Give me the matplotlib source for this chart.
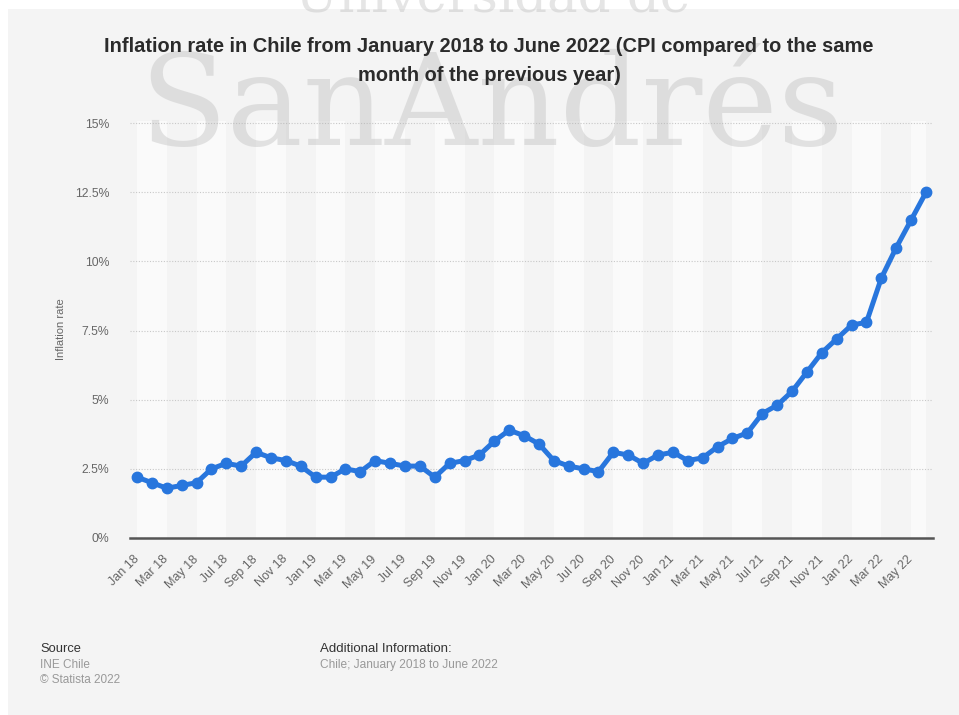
import matplotlib
matplotlib.use('Agg')
import matplotlib.pyplot as plt
import pandas as pd
from matplotlib.patches import Rectangle

# monthly CPI change vs same month of previous year, Jan 2018 - Jun 2022
months = pd.date_range('2018-01-01', '2022-06-01', freq='MS')
month_labels = [d.strftime('%b %y') for d in months]
inflation = [
    2.2, 2.0, 1.8, 1.9, 2.0, 2.5, 2.7, 2.6, 3.1, 2.9, 2.8, 2.6,   # 2018
    2.2, 2.2, 2.5, 2.4, 2.8, 2.7, 2.6, 2.6, 2.2, 2.7, 2.8, 3.0,   # 2019
    3.5, 3.9, 3.7, 3.4, 2.8, 2.6, 2.5, 2.4, 3.1, 3.0, 2.7, 3.0,   # 2020
    3.1, 2.8, 2.9, 3.3, 3.6, 3.8, 4.5, 4.8, 5.3, 6.0, 6.7, 7.2,   # 2021
    7.7, 7.8, 9.4, 10.5, 11.5, 12.5,                              # 2022
]
y_ticks = [0, 2.5, 5, 7.5, 10, 12.5, 15]
y_tick_labels = ['0%', '2.5%', '5%', '7.5%', '10%', '12.5%', '15%']

BG = '#f4f4f4'
BLUE = '#2876dd'
SANS = ['Liberation Sans', 'DejaVu Sans']

fig = plt.figure(figsize=(9.59, 7.15), dpi=100)
fig.patch.set_facecolor('white')
fig.add_artist(Rectangle((8 / 959, 0), 1, 1 - 9 / 715, transform=fig.transFigure,
                         facecolor=BG, edgecolor='none', zorder=-10))

ax = fig.add_axes([130 / 959, 1 - 538 / 715, 803 / 959, 417 / 715])
ax.set_facecolor(BG)

x = list(range(len(inflation)))
n = len(x)

# alternating two-month column shading
for start in range(0, n, 4):
    ax.axvspan(start, min(start + 2, n - 1), color='#fafafa', lw=0, zorder=0)

ax.plot(x, inflation, color=BLUE, lw=3.6, marker='o', markersize=7.5,
        solid_capstyle='round', solid_joinstyle='round', zorder=5)

ax.set_xlim(-7 / 14.89, n - 1 + 7 / 14.89)
ax.set_ylim(0, 15.08)

ax.set_yticks(y_ticks)
ax.set_yticklabels(y_tick_labels, family=SANS, fontsize=8.8, color='#666666')
ax.yaxis.grid(True, linestyle=(0, (1, 1.5)), color='#c8c8c8', lw=0.8, zorder=1)
ax.set_axisbelow(True)

ax.set_xticks(x[::2])
ax.set_xticklabels(month_labels[::2], family=SANS, fontsize=9, color='#666666',
                   rotation=45, ha='right', va='center', rotation_mode='anchor')
ax.tick_params(axis='x', length=0, pad=14)
ax.tick_params(axis='y', length=0, pad=15)

for side in ['top', 'right', 'left']:
    ax.spines[side].set_visible(False)
ax.spines['bottom'].set_color('#555555')
ax.spines['bottom'].set_linewidth(1.8)
ax.spines['bottom'].set_zorder(6)

ax.set_ylabel('Inflation rate', family=SANS, fontsize=8, color='#666666', labelpad=6)

# watermark
fig.text(491 / 959, 1 - 145 / 715, 'SanAndrés', family='DejaVu Serif', fontsize=92,
         color='#b0b0b0', alpha=0.33, ha='center', va='baseline', zorder=4)
fig.text(493 / 959, 1 - 12 / 715, 'Universidad de', family='DejaVu Serif', fontsize=37,
         color='#b0b0b0', alpha=0.33, ha='center', va='baseline', zorder=4)

fig.text(489 / 959, 1 - 61 / 715,
         'Inflation rate in Chile from January 2018 to June 2022 (CPI compared to the same\n'
         'month of the previous year)',
         family=SANS, fontsize=14.4, weight='bold', color='#2b2b2b',
         ha='center', va='center', linespacing=1.65, zorder=10)

# source / notes footer
fig.text(40 / 959, 1 - 649 / 715, 'Source', family=SANS, fontsize=9.3, color='#333333', va='center')
fig.text(40 / 959, 1 - 665 / 715, 'INE Chile', family=SANS, fontsize=8.5, color='#999999', va='center')
fig.text(40 / 959, 1 - 680 / 715, '© Statista 2022', family=SANS, fontsize=8.5, color='#999999', va='center')
fig.text(320 / 959, 1 - 649 / 715, 'Additional Information:', family=SANS, fontsize=9.5,
         color='#333333', va='center')
fig.text(320 / 959, 1 - 665 / 715, 'Chile; January 2018 to June 2022', family=SANS, fontsize=8.6,
         color='#999999', va='center')

fig.savefig('out.png', dpi=100, facecolor=fig.get_facecolor())
plt.close(fig)
